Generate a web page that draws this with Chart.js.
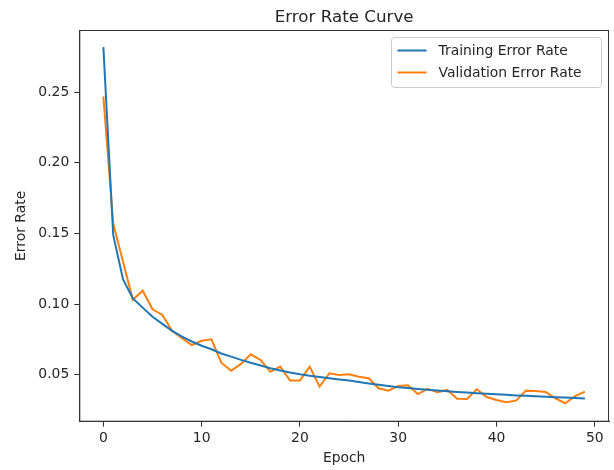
<!DOCTYPE html>
<html>
<head>
<meta charset="utf-8">
<script src="https://cdn.jsdelivr.net/npm/chart.js@4.4.1/dist/chart.umd.min.js"></script>
<style>
  html, body { margin: 0; padding: 0; background: #fff; }
  #wrap { width: 614px; height: 470px; }
</style>
</head>
<body>
<div id="wrap"><canvas id="c" width="614" height="470"></canvas></div>
<script>
// values
const epochs = Array.from({ length: 50 }, (_, i) => i);
const trainErr = [
  0.282, 0.149, 0.1175, 0.104, 0.0975, 0.091, 0.086, 0.081, 0.077, 0.0735,
  0.0705, 0.068, 0.065, 0.0628, 0.0605, 0.0585, 0.0565, 0.0545, 0.053, 0.0515,
  0.0503, 0.0493, 0.0484, 0.0475, 0.0466, 0.0458, 0.0448, 0.0438, 0.0428, 0.0419,
  0.0411, 0.0405, 0.0399, 0.0393, 0.0388, 0.0383, 0.0378, 0.0373, 0.0369, 0.0365,
  0.0361, 0.0357, 0.0353, 0.035, 0.0347, 0.0344, 0.0341, 0.0338, 0.0335, 0.0332
];
const validErr = [
  0.247, 0.157, 0.130, 0.103, 0.1095, 0.0963, 0.0923, 0.081, 0.0758, 0.071,
  0.074, 0.075, 0.0585, 0.0528, 0.0576, 0.0644, 0.0604, 0.052, 0.0557, 0.0458,
  0.0458, 0.0557, 0.0415, 0.051, 0.0498, 0.0503, 0.0486, 0.0475, 0.0404, 0.0387,
  0.042, 0.0425, 0.0363, 0.040, 0.0375, 0.0392, 0.033, 0.0328, 0.0397, 0.0342,
  0.0321, 0.0305, 0.0316, 0.0387, 0.0385, 0.0378, 0.0333, 0.0297, 0.0349, 0.038
];
const seriesLabels = ["Training Error Rate", "Validation Error Rate"];
const chartTitle = "Error Rate Curve";
const xTicks = [0, 10, 20, 30, 40, 50];
const yTicks = [0.05, 0.10, 0.15, 0.20, 0.25];

const FONT = "'DejaVu Sans', sans-serif";
const TXT = "#262626";
const AX = "#333";

function pts(vals){ return vals.map((v, i) => ({ x: epochs[i], y: v })); }

// box around the plot area (matplotlib spines), title over the axes, legend top right
const framePlugin = {
  id: "frame",
  afterDraw(chart){
    const { ctx, chartArea: a } = chart;
    ctx.save();
    ctx.strokeStyle = AX;
    ctx.lineWidth = 1;
    ctx.strokeRect(a.left + 0.5, a.top + 0.5, a.right - a.left - 1, a.bottom - a.top - 1);

    // title centred on the axes, like matplotlib
    ctx.fillStyle = TXT;
    ctx.font = "16.7px " + FONT;
    ctx.textAlign = "center";
    ctx.textBaseline = "alphabetic";
    ctx.fillText(chartTitle, (a.left + a.right) / 2, a.top - 8.5);

    // legend
    const bx = 391.5, by = 37.5, bw = 210, bh = 50;
    ctx.fillStyle = "rgba(255,255,255,0.8)";
    ctx.strokeStyle = "#cccccc";
    ctx.beginPath();
    ctx.roundRect(bx, by, bw, bh, 3);
    ctx.fill();
    ctx.stroke();
    ctx.font = "13.9px " + FONT;
    ctx.textBaseline = "middle";
    ctx.textAlign = "left";
    chart.data.datasets.forEach((ds, i) => {
      const y = by + 13 + i * 22;
      ctx.strokeStyle = ds.borderColor;
      ctx.lineWidth = 2;
      ctx.beginPath();
      ctx.moveTo(bx + 6, y);
      ctx.lineTo(bx + 35, y);
      ctx.stroke();
      ctx.fillStyle = TXT;
      ctx.fillText(ds.label, bx + 47, y + 1);
    });
    ctx.restore();
  }
};

new Chart(document.getElementById("c"), {
  type: "line",
  data: {
    datasets: [
      { label: seriesLabels[0], data: pts(trainErr), borderColor: "#1f77b4", backgroundColor: "#1f77b4",
        borderWidth: 2, pointRadius: 0, tension: 0, fill: false },
      { label: seriesLabels[1], data: pts(validErr), borderColor: "#ff7f0e", backgroundColor: "#ff7f0e",
        borderWidth: 2, pointRadius: 0, tension: 0, fill: false }
    ]
  },
  options: {
    responsive: false,
    animation: false,
    devicePixelRatio: 1,
    layout: { padding: { left: 0, right: 5, top: 30, bottom: 0 } },
    plugins: {
      legend: { display: false },
      tooltip: { enabled: false },
      title: { display: false }
    },
    scales: {
      x: {
        type: "linear",
        min: -2.45,
        max: 51.45,
        afterBuildTicks: s => { s.ticks = xTicks.map(v => ({ value: v })); },
        afterFit: s => { s.height = 48.3; },
        grid: { drawOnChartArea: false, drawTicks: true, tickLength: 5, color: AX },
        border: { display: true, color: AX },
        ticks: { color: TXT, font: { family: FONT, size: 13.9 }, padding: 3, maxRotation: 0 },
        title: { display: true, text: "Epoch", color: TXT, font: { family: FONT, size: 13.9 },
                 padding: { top: 0, bottom: 3 } }
      },
      y: {
        type: "linear",
        min: 0.0167,
        max: 0.2941,
        afterBuildTicks: s => { s.ticks = yTicks.map(v => ({ value: v })); },
        afterFit: s => { s.width = 79.3; },
        grid: { drawOnChartArea: false, drawTicks: true, tickLength: 5, color: AX },
        border: { display: true, color: AX },
        ticks: { color: TXT, font: { family: FONT, size: 13.9 }, padding: 5,
                 callback: v => v.toFixed(2) },
        title: { display: true, text: "Error Rate", color: TXT, font: { family: FONT, size: 13.9 },
                 padding: { top: 13, bottom: 0 } }
      }
    }
  },
  plugins: [framePlugin]
});
</script>
</body>
</html>
